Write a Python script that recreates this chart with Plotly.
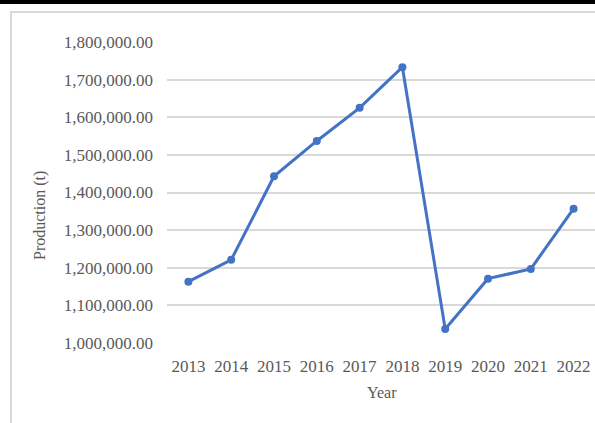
import plotly.graph_objects as go

years = ["2013", "2014", "2015", "2016", "2017", "2018", "2019", "2020", "2021", "2022"]
production = [1163000, 1221000, 1443000, 1537000, 1625000, 1733000, 1037000, 1171000, 1197000, 1357000]
y_ticks = [1000000, 1100000, 1200000, 1300000, 1400000, 1500000, 1600000, 1700000, 1800000]
y_tick_labels = [f"{v:,.2f}" for v in y_ticks]

W, H = 595, 423
L, R, T, B = 167, 0, 42, 80
pw, ph = W - L - R, H - T - B

def px_x(x):
    return (x - L) / pw

def px_y(y):
    return (H - B - y) / ph

font = dict(family="Liberation Serif, Times New Roman, serif", size=16, color="#595959")
tick_font = dict(family="Liberation Serif, Times New Roman, serif", size=17, color="#595959")

fig = go.Figure()
fig.add_trace(go.Scatter(
    x=years, y=production, mode="lines+markers",
    line=dict(color="#4472C4", width=3),
    marker=dict(color="#4472C4", size=8),
    showlegend=False,
))

fig.update_layout(
    width=W, height=H,
    autosize=False,
    margin=dict(l=L, r=R, t=T, b=B, pad=0, autoexpand=False),
    paper_bgcolor="white", plot_bgcolor="white",
    font=font,
    xaxis=dict(type="category", range=[-0.5, len(years) - 0.5], showgrid=False,
               zeroline=False, showline=False, ticks="", tickfont=tick_font,
               ticklabelstandoff=11, automargin=False),
    yaxis=dict(range=[1000000, 1800000], tickvals=y_ticks, ticktext=y_tick_labels,
               showgrid=True, gridcolor="#d9d9d9", gridwidth=1.5, zeroline=False,
               showline=False, ticks="", tickfont=tick_font, ticklabelstandoff=13,
               automargin=False),
    shapes=[
        dict(type="rect", xref="paper", yref="paper",
             x0=px_x(11), x1=px_x(W + 20), y0=px_y(H + 20), y1=px_y(12),
             line=dict(color="#d9d9d9", width=2), fillcolor="rgba(0,0,0,0)", layer="below"),
        dict(type="rect", xref="paper", yref="paper",
             x0=px_x(-5), x1=px_x(W + 5), y0=px_y(4), y1=px_y(-5),
             line=dict(width=0), fillcolor="black"),
    ],
    annotations=[
        dict(text="Year", xref="paper", yref="paper", x=px_x(382), y=px_y(392),
             xanchor="center", yanchor="middle", showarrow=False, font=font),
        dict(text="Production (t)", xref="paper", yref="paper", x=px_x(40), y=px_y(216),
             xanchor="center", yanchor="middle", textangle=-90, showarrow=False, font=font),
    ],
)

fig.write_html(
    "out.html",
    config={"displayModeBar": False},
    post_script="document.body.style.margin='0';document.body.style.overflow='hidden';",
)
